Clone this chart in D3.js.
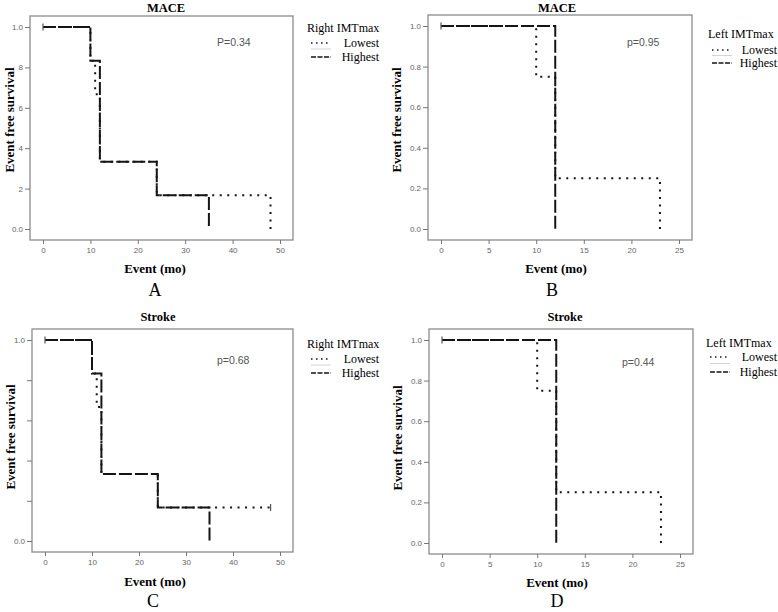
<!DOCTYPE html>
<html><head><meta charset="utf-8">
<script src="https://cdn.jsdelivr.net/npm/d3@7"></script>
<style>body{margin:0;background:#fff}svg{display:block}</style>
</head><body>
<script>
// ---- data ----
const panelTitles = ["MACE", "MACE", "Stroke", "Stroke"];
const panelLetters = ["A", "B", "C", "D"];
const pLabels = ["P=0.34", "p=0.95", "p=0.68", "p=0.44"];
const legendTitles = ["Right IMTmax", "Left IMTmax", "Right IMTmax", "Left IMTmax"];
const seriesNames = ["Lowest", "Highest"];
const xTicksRight = [0, 10, 20, 30, 40, 50];
const xTicksLeft = [0, 5, 10, 15, 20, 25];
const yTickValues = [0, 0.2, 0.4, 0.6, 0.8, 1.0];
const yLabelsA = ["0.0", "2", "4", "6", "8", "1.0"];
const yLabelsFull = ["0.0", "0.2", "0.4", "0.6", "0.8", "1.0"];
const yLabelsC = ["0.0", "", "", "", "", "1.0"];

const aLowTime = [0, 10, 11, 12, 24, 48];
const aLowSurv = [1, 0.833, 0.667, 0.333, 0.167, 0];
const aHighTime = [0, 10, 12, 24, 35];
const aHighSurv = [1, 0.833, 0.333, 0.167, 0];
const bLowTime = [0, 10, 12, 23];
const bLowSurv = [1, 0.75, 0.25, 0];
const bHighTime = [0, 12];
const bHighSurv = [1, 0];
const cLowTime = [0, 10, 11, 12, 24, 48];
const cLowSurv = [1, 0.833, 0.667, 0.333, 0.167, 0.167];
const cHighTime = [0, 10, 12, 24, 35];
const cHighSurv = [1, 0.833, 0.333, 0.167, 0];
const dLowTime = [0, 10, 12, 23];
const dLowSurv = [1, 0.75, 0.25, 0];
const dHighTime = [0, 12];
const dHighSurv = [1, 0];
// censored marks [time, survival]
const aCensor = [[0, 1]];
const bCensor = [[0, 1]];
const cCensor = [[0, 1], [48, 0.167]];
const dCensor = [[0, 1]];

// ---- layout ----
const W = 778, H = 612;
const svg = d3.select("body").append("svg").attr("width", W).attr("height", H);

const panels = [
  {frame: [30, 16, 293, 240], xmax: 50, xt: xTicksRight, yl: yLabelsA,
   low: [aLowTime, aLowSurv], high: [aHighTime, aHighSurv], cens: aCensor,
   title: [166, 8], ytitle: [9, 120], xtitle: [155, 268], letter: [155, 290],
   p: [217, 42], leg: [307, 28, 43, 57, 379]},
  {frame: [428, 15, 692, 240], xmax: 25, xt: xTicksLeft, yl: yLabelsFull,
   low: [bLowTime, bLowSurv], high: [bHighTime, bHighSurv], cens: bCensor,
   title: [557, 8], ytitle: [396, 120], xtitle: [556, 268], letter: [552, 290],
   p: [627, 42], leg: [708, 34, 50, 63, 777]},
  {frame: [32, 329, 293, 552], xmax: 50, xt: xTicksRight, yl: yLabelsC,
   low: [cLowTime, cLowSurv], high: [cHighTime, cHighSurv], cens: cCensor,
   title: [158, 317], ytitle: [10, 437], xtitle: [155, 581], letter: [153, 601],
   p: [217, 360], leg: [307, 344, 359, 373, 379]},
  {frame: [429, 329, 693, 554], xmax: 25, xt: xTicksLeft, yl: yLabelsFull,
   low: [dLowTime, dLowSurv], high: [dHighTime, dHighSurv], cens: dCensor,
   title: [565, 317], ytitle: [397, 438], xtitle: [557, 582], letter: [557, 601],
   p: [622, 362], leg: [706, 343, 357, 372, 777]}
];

const serif = "'Liberation Serif','Times New Roman',serif";
const sans = "Arial,'Liberation Sans',sans-serif";
const dashed = "13,3", dotted = "2,5.5";

panels.forEach((P, i) => {
  const [x0, y0, x1, y1] = P.frame;
  const x = d3.scaleLinear().domain([0, P.xmax]).range([x0 + 13, x1 - 13]);
  const y = d3.scaleLinear().domain([0, 1]).range([y1 - 11, y0 + 11]);
  const g = svg.append("g");

  // frame
  g.append("rect").attr("x", x0).attr("y", y0).attr("width", x1 - x0).attr("height", y1 - y0)
    .attr("fill", "none").attr("stroke", "#8c8c8c").attr("stroke-width", 1.3);

  // axes
  const yAxis = d3.axisLeft(y).tickValues(yTickValues).tickSize(5).tickPadding(2)
    .tickFormat((d, k) => P.yl[k]);
  const ya = g.append("g").attr("transform", `translate(${x0},0)`).call(yAxis);
  const xAxis = d3.axisBottom(x).tickValues(P.xt).tickSize(4).tickPadding(3).tickFormat(d3.format("d"));
  const xa = g.append("g").attr("transform", `translate(0,${y1})`).call(xAxis);
  [ya, xa].forEach(a => {
    a.select(".domain").remove();
    a.selectAll(".tick line").attr("stroke", "#777");
    a.selectAll(".tick text").attr("fill", "#666").attr("font-family", sans).attr("font-size", 8);
  });

  // curves
  const line = d3.line().x(d => x(d[0])).y(d => y(d[1])).curve(d3.curveStepAfter);
  const lowPts = d3.zip(P.low[0], P.low[1]);
  const highPts = d3.zip(P.high[0], P.high[1]);
  g.append("path").attr("d", line(lowPts)).attr("fill", "none").attr("stroke", "#151515")
    .attr("stroke-width", 2).attr("stroke-dasharray", dotted);
  g.append("path").attr("d", line(highPts)).attr("fill", "none").attr("stroke", "#151515")
    .attr("stroke-width", 2).attr("stroke-dasharray", dashed);
  P.cens.forEach(c => {
    g.append("line").attr("x1", x(c[0])).attr("x2", x(c[0]))
      .attr("y1", y(c[1]) - 3.5).attr("y2", y(c[1]) + 3.5)
      .attr("stroke", "#555").attr("stroke-width", 1.2);
  });

  // texts
  g.append("text").attr("x", P.title[0]).attr("y", P.title[1]).attr("dy", "0.35em")
    .attr("text-anchor", "middle").attr("font-family", serif).attr("font-weight", "bold")
    .attr("font-size", 12.5).text(panelTitles[i]);
  g.append("text").attr("transform", `translate(${P.ytitle[0]},${P.ytitle[1]}) rotate(-90)`)
    .attr("dy", "0.35em").attr("text-anchor", "middle").attr("font-family", serif)
    .attr("font-weight", "bold").attr("font-size", 13).text("Event free survival");
  g.append("text").attr("x", P.xtitle[0]).attr("y", P.xtitle[1]).attr("dy", "0.35em")
    .attr("text-anchor", "middle").attr("font-family", serif).attr("font-weight", "bold")
    .attr("font-size", 13).text("Event (mo)");
  g.append("text").attr("x", P.letter[0]).attr("y", P.letter[1]).attr("dy", "0.35em")
    .attr("text-anchor", "middle").attr("font-family", serif)
    .attr("font-size", 18).text(panelLetters[i]);
  g.append("text").attr("x", P.p[0]).attr("y", P.p[1]).attr("dy", "0.35em")
    .attr("font-family", sans).attr("fill", "#555").attr("font-size", 10.5).text(pLabels[i]);

  // legend
  const [lx, ty, lowY, highY, rx] = P.leg;
  g.append("text").attr("x", lx).attr("y", ty).attr("dy", "0.35em")
    .attr("font-family", serif).attr("font-size", 12).text(legendTitles[i]);
  const rows = [[lowY, dotted], [highY, dashed]];
  rows.forEach((r, k) => {
    g.append("line").attr("x1", lx + 4).attr("x2", lx + 24).attr("y1", r[0]).attr("y2", r[0])
      .attr("stroke", "#151515").attr("stroke-width", 1.6).attr("stroke-dasharray", k === 0 ? "1.5,3.5" : "5,1.5");
    g.append("text").attr("x", rx).attr("y", r[0]).attr("dy", "0.35em").attr("text-anchor", "end")
      .attr("font-family", serif).attr("font-size", 12).text(seriesNames[k]);
  });
  g.append("line").attr("x1", lx + 4).attr("x2", lx + 24)
    .attr("y1", (lowY + highY) / 2 - 1).attr("y2", (lowY + highY) / 2 - 1)
    .attr("stroke", "#d4d4d4").attr("stroke-width", 1);
});
</script>
</body></html>
